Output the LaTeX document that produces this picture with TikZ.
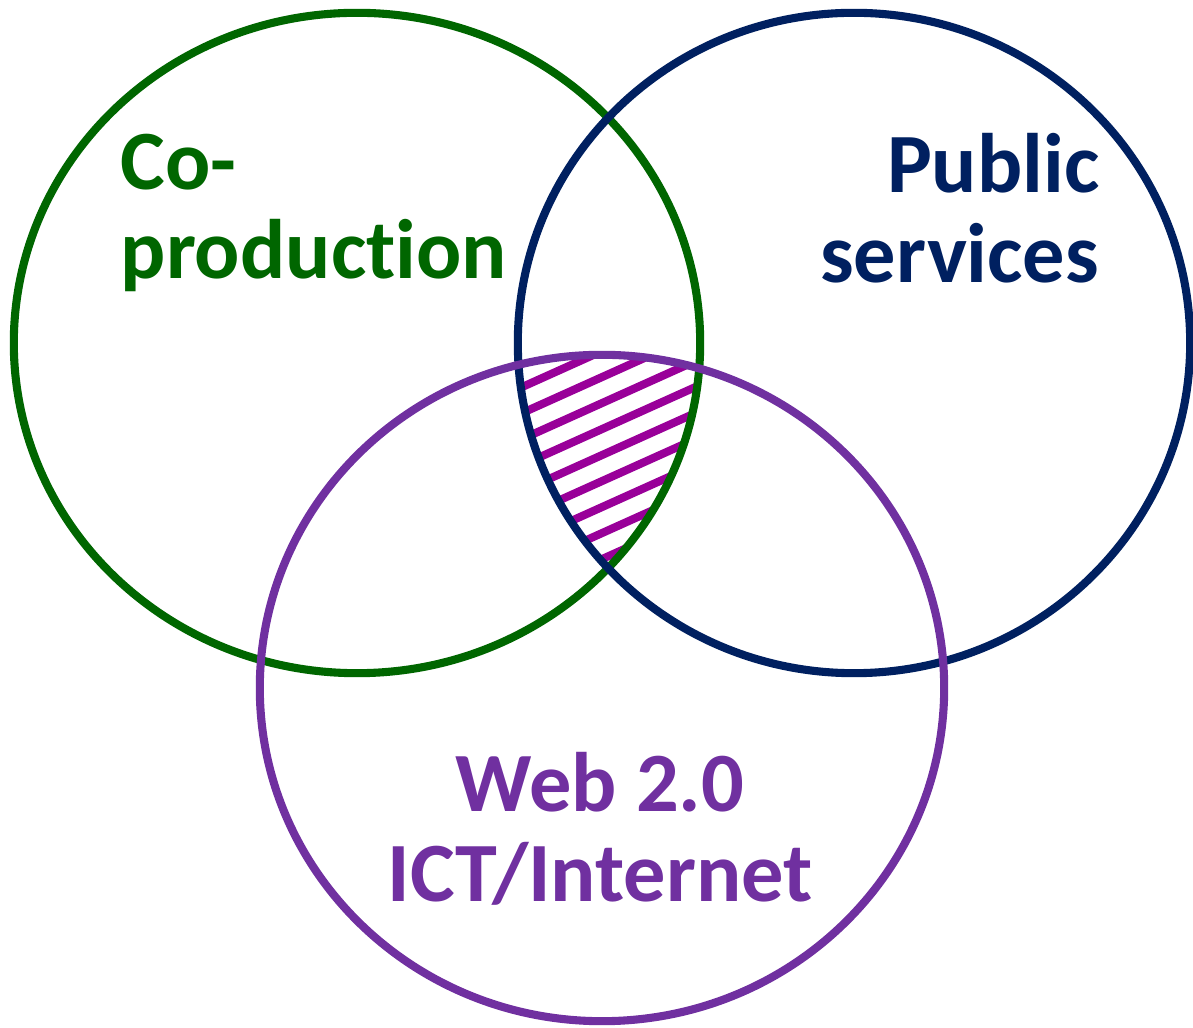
\documentclass[tikz,border=0pt]{standalone}
\usepackage{fontspec}
\setmainfont{Carlito}[Ligatures=NoCommon]
\usetikzlibrary{calc}
\definecolor{coprod}{RGB}{0,102,0}
\definecolor{pubserv}{RGB}{0,32,96}
\definecolor{webict}{RGB}{112,48,160}
\definecolor{hatchc}{RGB}{153,0,153}

\begin{document}
\begin{tikzpicture}
        [x=0.01cm,y=-0.01cm]
        \tikzstyle{every node}=[inner sep=0pt, font=\bfseries\fontsize{24}{25.5}\selectfont]
        \tikzstyle{ring}=[line width=2.3pt]
        \tikzstyle{stripe}=[draw=hatchc, line width=2.3pt]
        \useasboundingbox (0,0) rectangle (1193,1028);
        %-----centres
        \coordinate (CP) at (357,343);
        \coordinate (PS) at (854,343);
        \coordinate (WI) at (602,688);

        %-----hatched centre
        \begin{scope}
         \clip (CP) ellipse [x radius=3.43cm, y radius=3.30cm];
         \clip (PS) ellipse [x radius=3.36cm, y radius=3.30cm];
         \clip (WI) ellipse [x radius=3.42cm, y radius=3.33cm];
         \foreach \k in {0,...,16}
         \draw[stripe] ($(480,380)+(0,26*\k)$) -- ++(260,-117);
        \end{scope}

        %-----rings
         \draw[ring, coprod]  (CP) ellipse [x radius=3.43cm, y radius=3.30cm];
         \draw[ring, pubserv] (PS) ellipse [x radius=3.36cm, y radius=3.30cm];
         \draw[ring, webict]  (WI) ellipse [x radius=3.42cm, y radius=3.33cm];

        %-----labels
         \node[anchor=north west, align=left, text=coprod]  (CPtext) at (120,133) {Co-\\production};
         \node[anchor=north east, align=right, text=pubserv] (PStext) at (1100,133) {Public\\services};
         \node[anchor=north, align=center, text=webict]  (WItext) at (600,752) {Web 2.0\\ICT/Internet};

        \end{tikzpicture}
\end{document}
